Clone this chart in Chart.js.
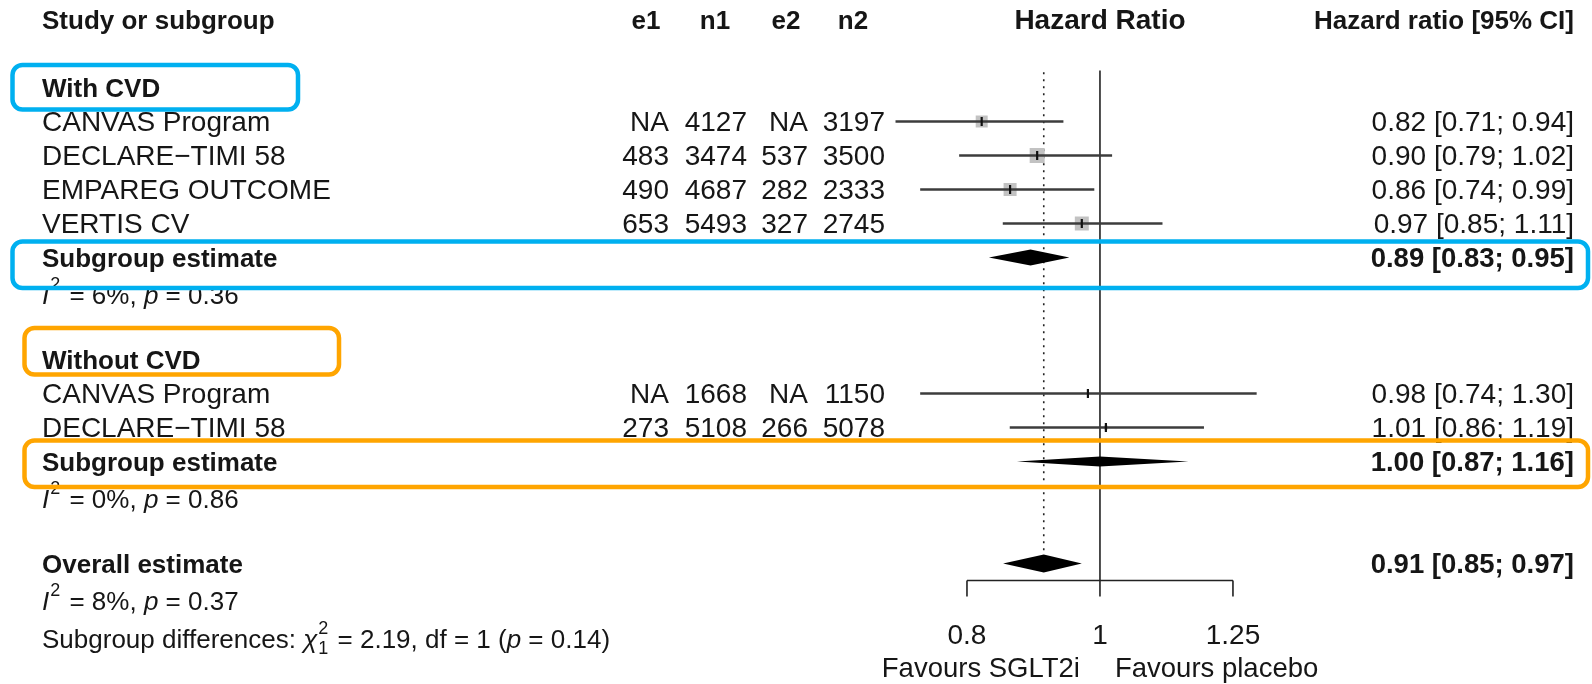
<!DOCTYPE html>
<html>
<head>
<meta charset="utf-8">
<script src="https://cdn.jsdelivr.net/npm/chart.js@4.4.1/dist/chart.umd.min.js"></script>
<style>
  html, body { margin: 0; padding: 0; background: #fff; }
  #wrap { width: 1592px; height: 684px; position: relative; }
</style>
</head>
<body>
<div id="wrap"><canvas id="forest"></canvas></div>
<script>
// Studies (row = line of the table, counted from the header)
const studyNames = ['CANVAS Program', 'DECLARE\u2212TIMI 58', 'EMPAREG OUTCOME', 'VERTIS CV', 'CANVAS Program', 'DECLARE\u2212TIMI 58'];
const studyRows = [3, 4, 5, 6, 11, 12];
const e1 = ['NA', '483', '490', '653', 'NA', '273'];
const n1 = ['4127', '3474', '4687', '5493', '1668', '5108'];
const e2 = ['NA', '537', '282', '327', 'NA', '266'];
const n2 = ['3197', '3500', '2333', '2745', '1150', '5078'];
const hr = [0.82, 0.90, 0.86, 0.97, 0.98, 1.01];
const lower = [0.71, 0.79, 0.74, 0.85, 0.74, 0.86];
const upper = [0.94, 1.02, 0.99, 1.11, 1.30, 1.19];
const weights = [19.0, 29.8, 22.4, 25.9, 0.8, 2.1];

// Subgroups
const groupNames = ['With CVD', 'Without CVD'];
const groupRows = [2, 10];

// Pooled estimates
const summaryNames = ['Subgroup estimate', 'Subgroup estimate', 'Overall estimate'];
const summaryRows = [7, 13, 16];
const summaryHr = [0.89, 1.00, 0.91];
const summaryLower = [0.83, 0.87, 0.85];
const summaryUpper = [0.95, 1.16, 0.97];

// Heterogeneity
const hetRows = [8, 14, 17];
const hetI2 = ['6%', '0%', '8%'];
const hetP = ['0.36', '0.86', '0.37'];
const subgroupDiff = { chi2: '2.19', df: '1', p: '0.14' };

// Axis
const axisTicks = [0.8, 1, 1.25];
const axisTickLabels = ['0.8', '1', '1.25'];

const fmt = v => v.toFixed(2);
const ciText = i => fmt(hr[i]) + ' [' + fmt(lower[i]) + '; ' + fmt(upper[i]) + ']';
const sumText = i => fmt(summaryHr[i]) + ' [' + fmt(summaryLower[i]) + '; ' + fmt(summaryUpper[i]) + ']';

const FONT = '"Liberation Sans", Arial, sans-serif';
const REG = '28px ' + FONT;
const BOLD = 'bold 26px ' + FONT;
const BOLD_NUM = 'bold 27.5px ' + FONT;
const ITAL = 'italic 28px ' + FONT;
const SMALL = '26px ' + FONT;
const SMALL_IT = 'italic 26px ' + FONT;
const SUP = '18px ' + FONT;
const INK = '#161616';
const TDY = 2; // text sits a little below the row centre

const AXIS_ROW = 16.5;
const diamondHalf = [8, 5, 9];

function rich(ctx, parts, x, y) {
  parts.forEach(p => {
    ctx.font = p.font;
    ctx.fillText(p.t, x, y + (p.dy || 0));
    if (!p.stay) x += ctx.measureText(p.t).width + (p.pad || 0);
  });
}

const forestPlugin = {
  id: 'forest',
  beforeDatasetsDraw(chart) {
    const { ctx, scales: { x, y } } = chart;
    const axisY = y.getPixelForValue(AXIS_ROW);
    ctx.save();
    ctx.strokeStyle = '#222';
    // line of no effect
    ctx.lineWidth = 1.6;
    ctx.beginPath();
    ctx.moveTo(x.getPixelForValue(1), y.getPixelForValue(1.5));
    ctx.lineTo(x.getPixelForValue(1), axisY);
    ctx.stroke();
    // dotted line at the overall estimate
    ctx.setLineDash([2, 5]);
    ctx.beginPath();
    ctx.moveTo(x.getPixelForValue(summaryHr[2]), y.getPixelForValue(1.55));
    ctx.lineTo(x.getPixelForValue(summaryHr[2]), y.getPixelForValue(summaryRows[2]) - diamondHalf[2]);
    ctx.stroke();
    ctx.setLineDash([]);
    // x axis
    ctx.beginPath();
    ctx.moveTo(x.getPixelForValue(axisTicks[0]), axisY);
    ctx.lineTo(x.getPixelForValue(axisTicks[axisTicks.length - 1]), axisY);
    axisTicks.forEach(t => {
      ctx.moveTo(x.getPixelForValue(t), axisY);
      ctx.lineTo(x.getPixelForValue(t), axisY + 16);
    });
    ctx.stroke();
    ctx.restore();
  },
  afterDatasetsDraw(chart) {
    const { ctx, scales: { x, y } } = chart;
    const axisY = y.getPixelForValue(AXIS_ROW);
    const rowY = r => y.getPixelForValue(r) + TDY;
    ctx.save();

    // diamonds
    ctx.fillStyle = '#000';
    summaryRows.forEach((r, i) => {
      const cy = y.getPixelForValue(r);
      const h = diamondHalf[i];
      ctx.beginPath();
      ctx.moveTo(x.getPixelForValue(summaryLower[i]), cy);
      ctx.lineTo(x.getPixelForValue(summaryHr[i]), cy - h);
      ctx.lineTo(x.getPixelForValue(summaryUpper[i]), cy);
      ctx.lineTo(x.getPixelForValue(summaryHr[i]), cy + h);
      ctx.closePath();
      ctx.fill();
    });

    ctx.fillStyle = INK;
    ctx.textBaseline = 'middle';

    // header
    const hy = rowY(0);
    ctx.font = BOLD;
    ctx.textAlign = 'left';
    ctx.fillText('Study or subgroup', 42, hy);
    ctx.textAlign = 'center';
    ctx.fillText('e1', 646, hy);
    ctx.fillText('n1', 715, hy);
    ctx.fillText('e2', 786, hy);
    ctx.fillText('n2', 853, hy);
    ctx.textAlign = 'right';
    ctx.fillText('Hazard ratio [95% CI]', 1574, hy);
    ctx.font = 'bold 28px ' + FONT;
    ctx.textAlign = 'center';
    ctx.fillText('Hazard Ratio', x.getPixelForValue(1), hy);

    // subgroup titles
    ctx.font = BOLD;
    ctx.textAlign = 'left';
    groupNames.forEach((g, i) => ctx.fillText(g, 42, rowY(groupRows[i])));

    // study rows
    studyRows.forEach((r, i) => {
      const ry = rowY(r);
      ctx.font = REG;
      ctx.textAlign = 'left';
      ctx.fillText(studyNames[i], 42, ry);
      ctx.textAlign = 'right';
      ctx.fillText(e1[i], 669, ry);
      ctx.fillText(n1[i], 747, ry);
      ctx.fillText(e2[i], 808, ry);
      ctx.fillText(n2[i], 885, ry);
      ctx.fillText(ciText(i), 1574, ry);
    });

    // pooled rows
    summaryRows.forEach((r, i) => {
      const ry = rowY(r);
      ctx.font = BOLD;
      ctx.textAlign = 'left';
      ctx.fillText(summaryNames[i], 42, ry);
      ctx.font = BOLD_NUM;
      ctx.textAlign = 'right';
      ctx.fillText(sumText(i), 1574, ry);
    });

    // heterogeneity
    ctx.textAlign = 'left';
    hetRows.forEach((r, i) => {
      rich(ctx, [
        { t: 'I', font: SMALL_IT, pad: 1 },
        { t: '2', font: SUP, dy: -11, pad: 2 },
        { t: ' = ' + hetI2[i] + ', ', font: SMALL },
        { t: 'p', font: SMALL_IT },
        { t: ' = ' + hetP[i], font: SMALL }
      ], 42, rowY(r) + 3);
    });
    rich(ctx, [
      { t: 'Subgroup differences: ', font: SMALL },
      { t: '\u03c7', font: SMALL_IT, pad: 1 },
      { t: '2', font: SUP, dy: -11, stay: true },
      { t: '1', font: SUP, dy: 9, pad: 2 },
      { t: ' = ' + subgroupDiff.chi2 + ', df = ' + subgroupDiff.df + ' (', font: SMALL },
      { t: 'p', font: SMALL_IT },
      { t: ' = ' + subgroupDiff.p + ')', font: SMALL }
    ], 42, rowY(18) + 7);

    // axis labels
    ctx.font = REG;
    ctx.textAlign = 'center';
    axisTicks.forEach((t, i) => ctx.fillText(axisTickLabels[i], x.getPixelForValue(t), axisY + 54 + TDY));
    ctx.font = '27.5px ' + FONT;
    ctx.textAlign = 'right';
    ctx.fillText('Favours SGLT2i', x.getPixelForValue(1) - 20, axisY + 89);
    ctx.textAlign = 'left';
    ctx.fillText('Favours placebo', x.getPixelForValue(1) + 15, axisY + 89);

    // highlight boxes
    ctx.lineWidth = 4.5;
    const box = (color, x0, y0, x1, y1) => {
      ctx.strokeStyle = color;
      ctx.beginPath();
      ctx.roundRect(x0, y0, x1 - x0, y1 - y0, 10);
      ctx.stroke();
    };
    box('#00b0f0', 12.5, 65, 298, 109.5);
    box('#00b0f0', 12.5, 241.5, 1588, 288);
    box('#ffa500', 24.5, 328, 339, 374.5);
    box('#ffa500', 24.5, 440.5, 1588, 487);

    ctx.restore();
  }
};

// 0.8 sits at 967px and 1 at 1100px across the full-width chart area
const X_MIN = 0.15793, X_MAX = 2.2832;
const ROW0 = 19.5, ROW_H = 34;

new Chart(document.getElementById('forest'), {
  type: 'bar',
  data: {
    datasets: [
      {
        type: 'scatter',
        data: studyRows.map((r, i) => ({ x: hr[i], y: r })),
        pointStyle: 'line',
        rotation: 90,
        pointRadius: 4.5,
        borderWidth: 2.2,
        borderColor: '#111',
        order: 0
      },
      {
        type: 'bar',
        data: studyRows.map((r, i) => ({ x: [lower[i], upper[i]], y: r })),
        backgroundColor: '#3c3c3c',
        barThickness: 2,
        borderWidth: 0,
        order: 1
      },
      {
        type: 'scatter',
        data: studyRows.map((r, i) => ({ x: hr[i], y: r })),
        pointStyle: 'rect',
        pointRadius: weights.map(w => 2.75 * Math.sqrt(w) / Math.SQRT2),
        backgroundColor: '#c2c2c2',
        borderWidth: 0,
        order: 2
      }
    ]
  },
  options: {
    indexAxis: 'y',
    responsive: true,
    maintainAspectRatio: false,
    animation: false,
    layout: { padding: 0, autoPadding: false },
    scales: {
      x: { type: 'logarithmic', min: X_MIN, max: X_MAX, bounds: 'data', offset: false, display: false },
      y: { type: 'linear', min: -ROW0 / ROW_H, max: (684 - ROW0) / ROW_H, bounds: 'data', offset: false, grace: 0, reverse: true, display: false }
    },
    plugins: { legend: { display: false }, tooltip: { enabled: false } }
  },
  plugins: [forestPlugin]
});
</script>
</body>
</html>
